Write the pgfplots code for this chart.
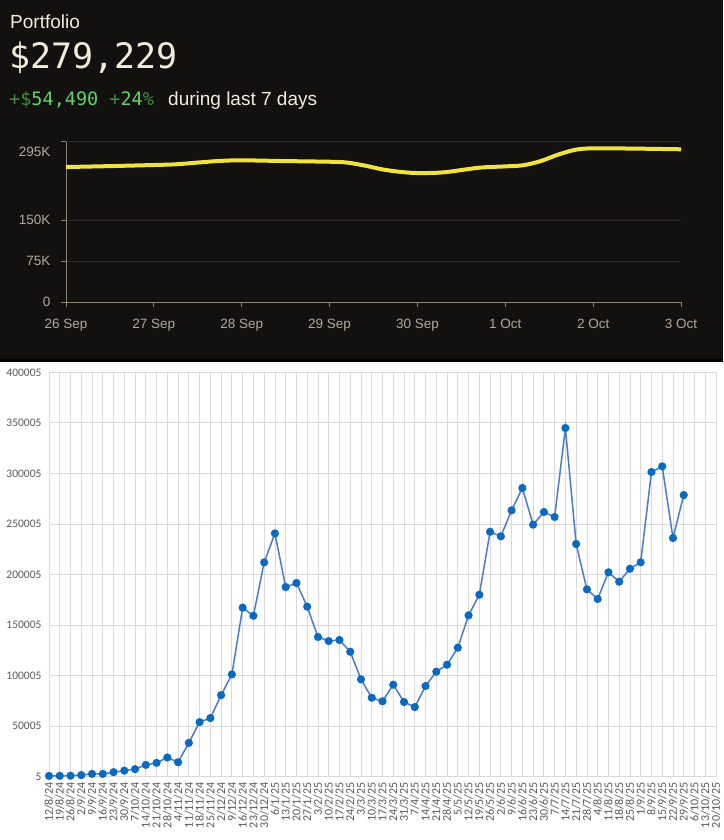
\documentclass[border=0pt]{standalone}
\usepackage{pgfplots}
\pgfplotsset{compat=1.18}
\usepackage{fontspec}
\setmainfont{Liberation Sans}
\newfontfamily\monofont{DejaVu Sans Mono}
\newfontfamily\carlito{Carlito}
\definecolor{topbg}{HTML}{131110}
\definecolor{cream}{HTML}{F3EBDA}
\definecolor{gdig}{HTML}{63D263}
\definecolor{gsym}{HTML}{3F8F3F}
\definecolor{tanlbl}{HTML}{B3A998}
\definecolor{tanaxis}{HTML}{8C8474}
\definecolor{dgrid}{HTML}{2C2926}
\definecolor{yel}{HTML}{F2E33C}
\definecolor{lgrid}{HTML}{D9D9D9}
\definecolor{lbl}{HTML}{595959}
\definecolor{xline}{HTML}{4A7BC8}
\definecolor{xmark}{HTML}{0A6AC2}
\begin{document}
\begin{tikzpicture}
\path[use as bounding box] (0,0) rectangle (723pt,-840pt);
\fill[topbg] (0,0) rectangle (723pt,-361pt);
\fill[black] (0,-359pt) rectangle (723pt,-362pt);
\fill[white] (0,-362pt) rectangle (723pt,-840pt);
\node[anchor=base west, inner sep=0, text=cream, font=\fontsize{19}{19}\selectfont] at (10pt,-28.3pt) {Portfolio};
\node[anchor=base west, inner sep=0, text=cream, font=\monofont\fontsize{35}{35}\selectfont] at (9pt,-68.5pt) {\$279,229};
\node[anchor=base west, inner sep=0, font=\monofont\fontsize{18.5}{18.5}\selectfont] at (9pt,-106pt) {\textcolor{gsym}{+\$}\textcolor{gdig}{54,490} \textcolor{gsym}{+}\textcolor{gdig}{24}\textcolor{gsym}{\%}};
\node[anchor=base west, inner sep=0, text=cream, font=\fontsize{19}{19}\selectfont] at (168pt,-106pt) {during last 7 days};

\begin{axis}[at={(66pt,-302pt)}, anchor=south west, scale only axis,
  width=615pt, height=161pt, xmin=0, xmax=7, ymin=0, ymax=295000,
  axis lines*=left, axis line style={tanaxis, line width=0.8pt},
  xtick={0,...,7}, xticklabels={26 Sep,27 Sep,28 Sep,29 Sep,30 Sep,1 Oct,2 Oct,3 Oct},
  ytick={0,75000,150000}, yticklabels={0,75K,150K},
  extra y ticks={295000}, extra y tick labels={295K},
  extra y tick style={yticklabel style={yshift=-11pt}},
  ymajorgrids, grid style={dgrid, line width=0.8pt},
  tick align=outside, major tick length=5pt, tick style={tanaxis, line width=0.8pt},
  tick label style={text=tanlbl, font=\fontsize{13.5}{13.5}\selectfont},
  xticklabel style={yshift=-9pt},
  yticklabel shift=7pt,
  scaled y ticks=false, clip=false,
  /pgf/number format/assume math mode=true]
\addplot[yel, line width=4pt, smooth, tension=0.5] table {
x y
0 247300
0.5 249000
1.0 251000
1.25 252300
1.5 255500
1.75 258500
2.0 259600
2.5 258200
3.0 257000
3.2 255500
3.4 250000
3.6 243000
3.8 238500
4.0 236300
4.3 237600
4.7 246000
5.0 248500
5.2 250500
5.4 258000
5.6 270000
5.8 279000
6.0 281600
6.5 281000
7.0 279800
};
\end{axis}

\begin{axis}[at={(49pt,-776.7pt)}, anchor=south west, scale only axis,
  width=667pt, height=404.4pt, xmin=0, xmax=62, ymin=5, ymax=400005,
  xtick={0,...,62},
  xticklabels={12/8/24,19/8/24,26/8/24,2/9/24,9/9/24,16/9/24,23/9/24,30/9/24,7/10/24,14/10/24,21/10/24,28/10/24,4/11/24,11/11/24,18/11/24,25/11/24,2/12/24,9/12/24,16/12/24,23/12/24,30/12/24,6/1/25,13/1/25,20/1/25,27/1/25,3/2/25,10/2/25,17/2/25,24/2/25,3/3/25,10/3/25,17/3/25,24/3/25,31/3/25,7/4/25,14/4/25,21/4/25,28/4/25,5/5/25,12/5/25,19/5/25,26/5/25,2/6/25,9/6/25,16/6/25,23/6/25,30/6/25,7/7/25,14/7/25,21/7/25,28/7/25,4/8/25,11/8/25,18/8/25,25/8/25,1/9/25,8/9/25,15/9/25,22/9/25,29/9/25,6/10/25,13/10/25,20/10/25},
  ytick={5,50005,100005,150005,200005,250005,300005,350005,400005},
  yticklabels={5,50005,100005,150005,200005,250005,300005,350005,400005},
  xmajorgrids, ymajorgrids, grid style={lgrid, line width=0.8pt},
  axis line style={lgrid, line width=0.8pt},
  major tick length=0pt,
  tick label style={text=lbl, font=\carlito\fontsize{11.5}{11.5}\selectfont},
  xticklabel style={rotate=90, anchor=east, font=\carlito\fontsize{12}{12}\selectfont},
  xticklabel shift=2pt, yticklabel shift=4pt,
  scaled y ticks=false, clip=false,
  /pgf/number format/assume math mode=true]
\addplot[xline, line width=1.5pt, mark=*, mark size=3.3pt, mark options={draw=xmark, fill=xmark}] table {
x y
0 800
1 900
2 1000
3 1600
4 2800
5 2800
6 4500
7 6000
8 7500
9 11700
10 13700
11 19000
12 14300
13 33500
14 54000
15 58000
16 80700
17 101200
18 167200
19 159200
20 212000
21 240700
22 187600
23 191600
24 168200
25 138200
26 134200
27 135200
28 123600
29 96300
30 78100
31 74600
32 91000
33 73900
34 68900
35 89700
36 103900
37 110800
38 127600
39 159600
40 180000
41 242300
42 237800
43 263500
44 285600
45 249300
46 261800
47 256900
48 344900
49 230200
50 185300
51 175800
52 202200
53 192900
54 205700
55 212100
56 301400
57 307000
58 236100
59 278600
};
\end{axis}
\end{tikzpicture}
\end{document}
